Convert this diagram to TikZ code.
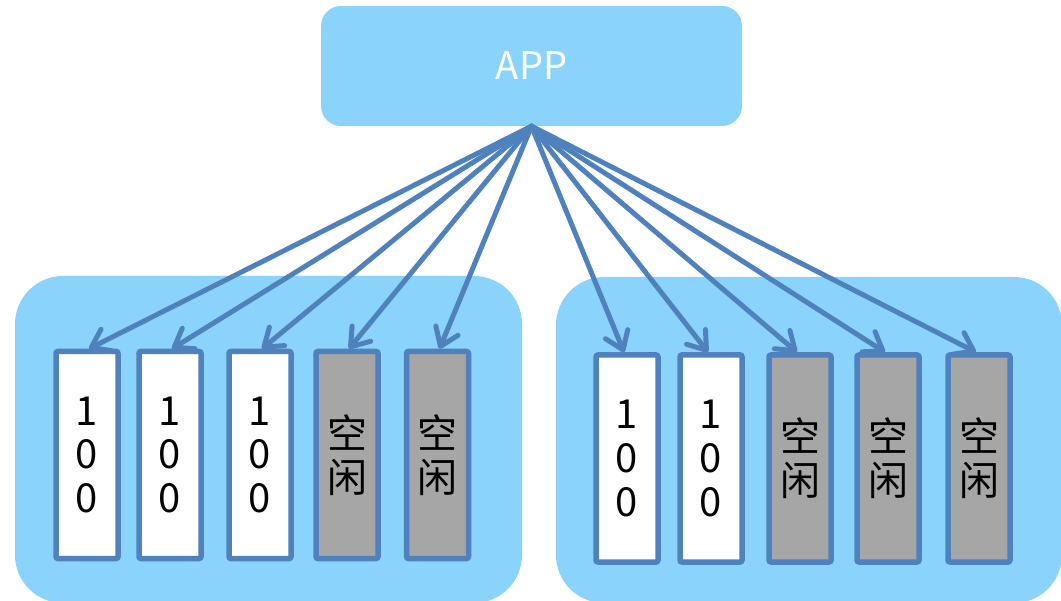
\documentclass[tikz,border=0pt]{standalone}
\usepackage{fontspec}
\newfontfamily\cjk{Noto Sans CJK SC}
\usetikzlibrary{arrows.meta}
\definecolor{panel}{HTML}{8AD3FC}
\definecolor{edge}{HTML}{4F81BD}
\definecolor{idle}{HTML}{A6A6A6}
\tikzset{
  panelbox/.style={fill=panel, draw=none, rounded corners=48pt},
  appbox/.style={fill=panel, draw=none, rounded corners=20pt,
    minimum width=421pt, minimum height=120pt, inner sep=0pt,
    text=white, font=\cjk\fontsize{38}{44}\selectfont},
  slot/.style={draw=edge, line width=5.5pt, rounded corners=2pt,
    minimum width=62pt, minimum height=207pt, inner sep=0pt,
    align=center, font=\cjk\fontsize{40}{44}\selectfont},
  used/.style={slot, fill=white},
  free/.style={slot, fill=idle},
  link/.style={draw=edge, line width=5pt, line cap=round,
    -{Straight Barb[length=17pt, width=24pt, line cap=round, round]}}
}
\begin{document}
\begin{tikzpicture}[x=1pt, y=-1pt]
\useasboundingbox (0,0) rectangle (1061,601);

% two server panels
\path[panelbox] (15,276) rectangle (522,603);
\path[panelbox] (556,277) rectangle (1062,603);

% client
\node[appbox] (app) at (531.5,66) {APP};

% left panel slots
\node[used] (l1) at (87,455) {1\\0\\0};
\node[used] (l2) at (170,455) {1\\0\\0};
\node[used] (l3) at (260,455) {1\\0\\0};
\node[free] (l4) at (347,455) {空\\闲};
\node[free] (l5) at (437.5,455) {空\\闲};

% right panel slots
\node[used] (r1) at (627,458.5) {1\\0\\0};
\node[used] (r2) at (711,458.5) {1\\0\\0};
\node[free] (r3) at (800,458.5) {空\\闲};
\node[free] (r4) at (888,458.5) {空\\闲};
\node[free] (r5) at (979,458.5) {空\\闲};

% requests from the client to every slot
\foreach \s in {l1,l2,l3,l4,l5}
  \draw[link] (app.south) -- ([xshift=2pt]\s.north);
\foreach \s in {r1,r2,r3,r4,r5}
  \draw[link] (app.south) -- ([xshift=-3pt]\s.north);
\end{tikzpicture}
\end{document}
